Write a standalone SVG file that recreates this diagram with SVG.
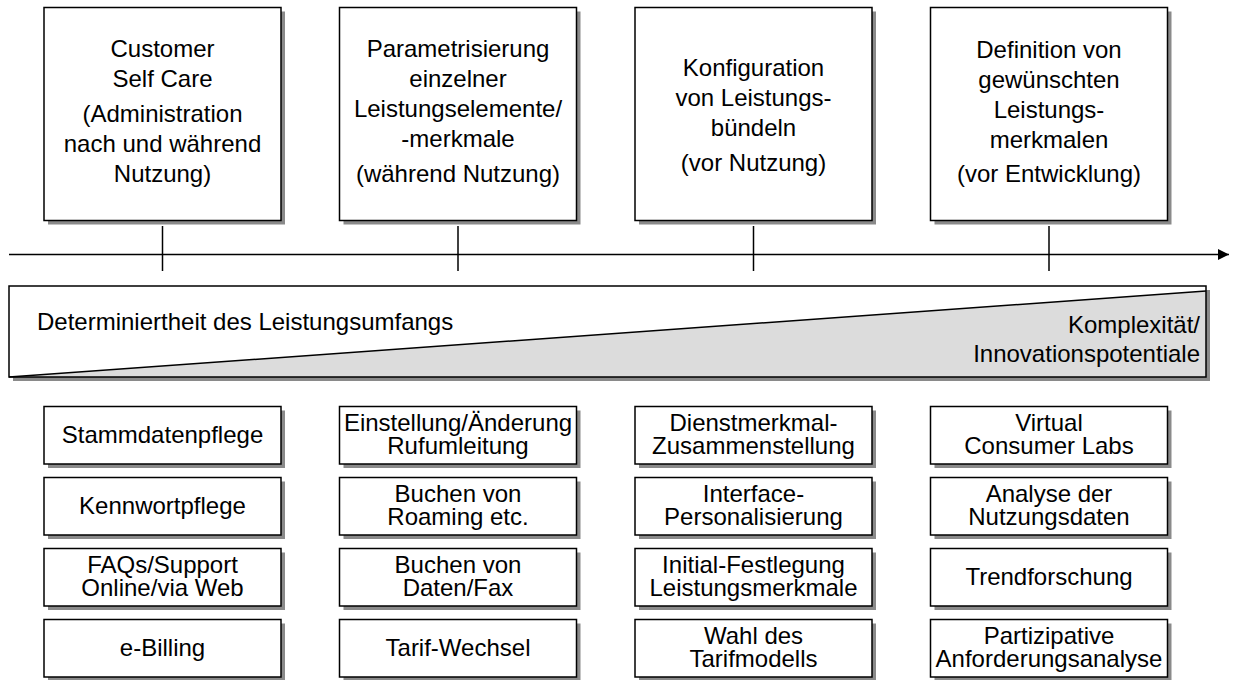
<svg xmlns="http://www.w3.org/2000/svg" width="1234" height="680" viewBox="0 0 1234 680">
  <style>
    .sh { fill: #8a8a8a; }
    .box { fill: #ffffff; stroke: #000000; stroke-width: 1.5; }
    .ln { stroke: #000000; stroke-width: 1.5; fill: none; }
    text { font-family: "Liberation Sans", Arial, sans-serif; font-size: 24px; fill: #000000; text-anchor: middle; }
    .l { text-anchor: start; }
    .r { text-anchor: end; }
  </style>
  <defs>
    <marker id="arrow" markerUnits="userSpaceOnUse" markerWidth="12" markerHeight="12" refX="11" refY="6" orient="auto">
      <path d="M0,0.5 L11,6 L0,11.5 Z" fill="#000000"/>
    </marker>
  </defs>
  <rect width="1234" height="680" fill="#ffffff"/>

  <!-- top nodes -->
  <g id="top1">
    <rect class="sh" x="48" y="11.5" width="237" height="213"/>
    <rect class="box" x="44" y="7.5" width="237" height="213"/>
    <text x="162.5" y="57">Customer</text>
    <text x="162.5" y="87">Self Care</text>
    <text x="162.5" y="122">(Administration</text>
    <text x="162.5" y="152">nach und während</text>
    <text x="162.5" y="182">Nutzung)</text>
  </g>
  <g id="top2">
    <rect class="sh" x="343.5" y="11.5" width="237" height="213"/>
    <rect class="box" x="339.5" y="7.5" width="237" height="213"/>
    <text x="458" y="57">Parametrisierung</text>
    <text x="458" y="87">einzelner</text>
    <text x="458" y="117">Leistungselemente/</text>
    <text x="458" y="147">-merkmale</text>
    <text x="458" y="182">(während Nutzung)</text>
  </g>
  <g id="top3">
    <rect class="sh" x="639" y="11.5" width="237" height="213"/>
    <rect class="box" x="635" y="7.5" width="237" height="213"/>
    <text x="753.5" y="76">Konfiguration</text>
    <text x="753.5" y="106">von Leistungs-</text>
    <text x="753.5" y="136">bündeln</text>
    <text x="753.5" y="171">(vor Nutzung)</text>
  </g>
  <g id="top4">
    <rect class="sh" x="934.5" y="11.5" width="237" height="213"/>
    <rect class="box" x="930.5" y="7.5" width="237" height="213"/>
    <text x="1049" y="58">Definition von</text>
    <text x="1049" y="88">gewünschten</text>
    <text x="1049" y="118">Leistungs-</text>
    <text x="1049" y="148">merkmalen</text>
    <text x="1049" y="182">(vor Entwicklung)</text>
  </g>

  <!-- connectors: axis and ticks -->
  <g id="connectors">
    <line class="ln" x1="9" y1="254.5" x2="1229" y2="254.5" marker-end="url(#arrow)"/>
    <line class="ln" x1="162.5" y1="226" x2="162.5" y2="271"/>
    <line class="ln" x1="458" y1="226" x2="458" y2="271"/>
    <line class="ln" x1="753.5" y1="226" x2="753.5" y2="271"/>
    <line class="ln" x1="1049" y1="226" x2="1049" y2="271"/>
  </g>

  <!-- wedge band -->
  <g id="wedge">
    <rect class="sh" x="13" y="290" width="1197" height="91"/>
    <rect x="9" y="286" width="1197" height="91" fill="#ffffff"/>
    <polygon points="9,377 1206,291 1206,377" fill="#dcdcdc"/>
    <line x1="9" y1="377" x2="1206" y2="291" stroke="#000000" stroke-width="1.5"/>
    <rect x="9" y="286" width="1197" height="91" fill="none" stroke="#000000" stroke-width="1.5"/>
    <text class="l" x="37" y="330">Determiniertheit des Leistungsumfangs</text>
    <text class="r" x="1200" y="333">Komplexität/</text>
    <text class="r" x="1200" y="362">Innovationspotentiale</text>
  </g>

  <!-- bottom column 1 -->
  <g id="b11">
    <rect class="sh" x="48" y="410.5" width="237" height="57.5"/>
    <rect class="box" x="44" y="406.5" width="237" height="57.5"/>
    <text x="162.5" y="443">Stammdatenpflege</text>
  </g>
  <g id="b12">
    <rect class="sh" x="48" y="481.5" width="237" height="57.5"/>
    <rect class="box" x="44" y="477.5" width="237" height="57.5"/>
    <text x="162.5" y="514">Kennwortpflege</text>
  </g>
  <g id="b13">
    <rect class="sh" x="48" y="552.5" width="237" height="57.5"/>
    <rect class="box" x="44" y="548.5" width="237" height="57.5"/>
    <text x="162.5" y="573">FAQs/Support</text>
    <text x="162.5" y="596">Online/via Web</text>
  </g>
  <g id="b14">
    <rect class="sh" x="48" y="623.5" width="237" height="57.5"/>
    <rect class="box" x="44" y="619.5" width="237" height="57.5"/>
    <text x="162.5" y="656">e-Billing</text>
  </g>

  <!-- bottom column 2 -->
  <g id="b21">
    <rect class="sh" x="343.5" y="410.5" width="237" height="57.5"/>
    <rect class="box" x="339.5" y="406.5" width="237" height="57.5"/>
    <text x="458" y="431">Einstellung/Änderung</text>
    <text x="458" y="454">Rufumleitung</text>
  </g>
  <g id="b22">
    <rect class="sh" x="343.5" y="481.5" width="237" height="57.5"/>
    <rect class="box" x="339.5" y="477.5" width="237" height="57.5"/>
    <text x="458" y="502">Buchen von</text>
    <text x="458" y="525">Roaming etc.</text>
  </g>
  <g id="b23">
    <rect class="sh" x="343.5" y="552.5" width="237" height="57.5"/>
    <rect class="box" x="339.5" y="548.5" width="237" height="57.5"/>
    <text x="458" y="573">Buchen von</text>
    <text x="458" y="596">Daten/Fax</text>
  </g>
  <g id="b24">
    <rect class="sh" x="343.5" y="623.5" width="237" height="57.5"/>
    <rect class="box" x="339.5" y="619.5" width="237" height="57.5"/>
    <text x="458" y="656">Tarif-Wechsel</text>
  </g>

  <!-- bottom column 3 -->
  <g id="b31">
    <rect class="sh" x="639" y="410.5" width="237" height="57.5"/>
    <rect class="box" x="635" y="406.5" width="237" height="57.5"/>
    <text x="753.5" y="431">Dienstmerkmal-</text>
    <text x="753.5" y="454">Zusammenstellung</text>
  </g>
  <g id="b32">
    <rect class="sh" x="639" y="481.5" width="237" height="57.5"/>
    <rect class="box" x="635" y="477.5" width="237" height="57.5"/>
    <text x="753.5" y="502">Interface-</text>
    <text x="753.5" y="525">Personalisierung</text>
  </g>
  <g id="b33">
    <rect class="sh" x="639" y="552.5" width="237" height="57.5"/>
    <rect class="box" x="635" y="548.5" width="237" height="57.5"/>
    <text x="753.5" y="573">Initial-Festlegung</text>
    <text x="753.5" y="596">Leistungsmerkmale</text>
  </g>
  <g id="b34">
    <rect class="sh" x="639" y="623.5" width="237" height="57.5"/>
    <rect class="box" x="635" y="619.5" width="237" height="57.5"/>
    <text x="753.5" y="644">Wahl des</text>
    <text x="753.5" y="667">Tarifmodells</text>
  </g>

  <!-- bottom column 4 -->
  <g id="b41">
    <rect class="sh" x="934.5" y="410.5" width="237" height="57.5"/>
    <rect class="box" x="930.5" y="406.5" width="237" height="57.5"/>
    <text x="1049" y="431">Virtual</text>
    <text x="1049" y="454">Consumer Labs</text>
  </g>
  <g id="b42">
    <rect class="sh" x="934.5" y="481.5" width="237" height="57.5"/>
    <rect class="box" x="930.5" y="477.5" width="237" height="57.5"/>
    <text x="1049" y="502">Analyse der</text>
    <text x="1049" y="525">Nutzungsdaten</text>
  </g>
  <g id="b43">
    <rect class="sh" x="934.5" y="552.5" width="237" height="57.5"/>
    <rect class="box" x="930.5" y="548.5" width="237" height="57.5"/>
    <text x="1049" y="585">Trendforschung</text>
  </g>
  <g id="b44">
    <rect class="sh" x="934.5" y="623.5" width="237" height="57.5"/>
    <rect class="box" x="930.5" y="619.5" width="237" height="57.5"/>
    <text x="1049" y="644">Partizipative</text>
    <text x="1049" y="667">Anforderungsanalyse</text>
  </g>
</svg>
